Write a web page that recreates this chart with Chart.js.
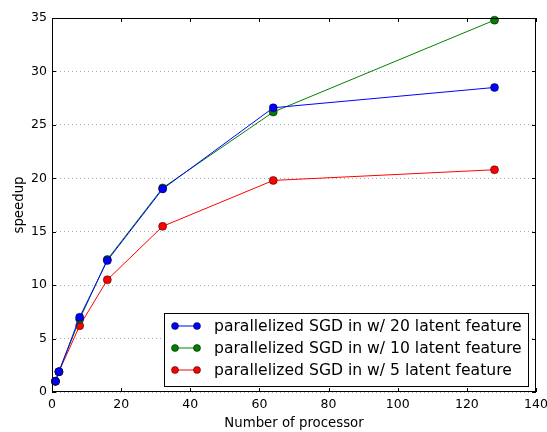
<!DOCTYPE html>
<html>
<head>
<meta charset="utf-8">
<script src="https://cdn.jsdelivr.net/npm/chart.js@4/dist/chart.umd.min.js"></script>
<style>
  html, body { margin: 0; padding: 0; background: #fff; }
  #wrap { width: 547px; height: 432px; }
</style>
</head>
<body>
<div id="wrap"><canvas id="chart-body"></canvas></div>
<script>
const processors = [1, 2, 8, 16, 32, 64, 128];
const speedup20 = [1.0, 1.9, 7.0, 12.3, 19.0, 26.6, 28.5];
const speedup10 = [1.0, 1.9, 6.8, 12.4, 19.1, 26.2, 34.8];
const speedup5 = [1.0, 1.9, 6.2, 10.5, 15.5, 19.8, 20.8];
const seriesLabels = [
    'parallelized SGD in w/ 20 latent feature',
    'parallelized SGD in w/ 10 latent feature',
    'parallelized SGD in w/ 5 latent feature'
];
const seriesColors = ['#0000ff', '#008000', '#ff0000'];

const FONT = '"DejaVu Sans", sans-serif';

function toPoints(values) {
    return processors.map((p, i) => ({ x: p, y: values[i] }));
}

// frame, inward ticks on all four sides, and the boxed legend inside the plot
const framePlugin = {
    id: 'frame',
    afterDraw(chart) {
        const ctx = chart.ctx;
        const a = chart.chartArea;
        const xs = chart.scales.x;
        const ys = chart.scales.y;
        ctx.save();
        ctx.strokeStyle = '#000';
        ctx.lineWidth = 1;
        ctx.beginPath();
        xs.ticks.forEach(t => {
            const px = Math.round(xs.getPixelForValue(t.value)) + 0.5;
            ctx.moveTo(px, a.bottom); ctx.lineTo(px, a.bottom - 4);
            ctx.moveTo(px, a.top); ctx.lineTo(px, a.top + 4);
        });
        ys.ticks.forEach(t => {
            const py = Math.round(ys.getPixelForValue(t.value)) + 0.5;
            ctx.moveTo(a.left, py); ctx.lineTo(a.left + 4, py);
            ctx.moveTo(a.right, py); ctx.lineTo(a.right - 4, py);
        });
        ctx.stroke();
        ctx.strokeRect(Math.round(a.left) + 0.5, Math.round(a.top) + 0.5,
            Math.round(a.right - a.left) - 1, Math.round(a.bottom - a.top) - 1);

        // legend
        const bx = 164.5, by = 313.5, bw = 364, bh = 73;
        ctx.fillStyle = '#fff';
        ctx.fillRect(bx, by, bw, bh);
        ctx.strokeRect(bx, by, bw, bh);
        ctx.font = '15.6px ' + FONT;
        ctx.textBaseline = 'middle';
        chart.data.datasets.forEach((ds, i) => {
            const y = 326 + i * 22;
            ctx.strokeStyle = ds.borderColor;
            ctx.beginPath();
            ctx.moveTo(175, y); ctx.lineTo(197, y);
            ctx.stroke();
            [175, 197].forEach(x => {
                ctx.beginPath();
                ctx.arc(x, y, 3.5, 0, Math.PI * 2);
                ctx.fillStyle = ds.pointBackgroundColor;
                ctx.fill();
                ctx.strokeStyle = '#000';
                ctx.lineWidth = 0.5;
                ctx.stroke();
                ctx.lineWidth = 1;
            });
            ctx.fillStyle = '#000';
            ctx.fillText(ds.label, 214, y + 1);
        });
        ctx.restore();
    }
};

function initializeChart() {
    const ctx = document.getElementById('chart-body').getContext('2d');
    const datasets = [speedup20, speedup10, speedup5].map((vals, i) => ({
        label: seriesLabels[i],
        data: toPoints(vals),
        borderColor: seriesColors[i],
        backgroundColor: seriesColors[i],
        pointBackgroundColor: seriesColors[i],
        pointBorderColor: '#000',
        pointBorderWidth: 0.5,
        pointRadius: 4,
        borderWidth: 1,
        tension: 0,
        clip: false
    }));
    window.chart = new Chart(ctx, {
        type: 'line',
        data: { datasets },
        options: {
            responsive: true,
            maintainAspectRatio: false,
            animation: { duration: 0 },
            layout: { padding: { top: 18, right: 0, left: 0, bottom: 0 } },
            plugins: {
                legend: { display: false },
                tooltip: { enabled: false }
            },
            scales: {
                x: {
                    type: 'linear',
                    min: 0,
                    max: 140,
                    grid: { display: false, drawTicks: false },
                    border: { display: false },
                    ticks: {
                        stepSize: 20,
                        color: '#000',
                        padding: 5,
                        font: { family: FONT, size: 12.5 }
                    },
                    title: {
                        display: true,
                        text: 'Number of processor',
                        color: '#000',
                        padding: { top: 2, bottom: 0 },
                        font: { family: FONT, size: 13.3 }
                    },
                    afterFit(scale) {
                        scale.height = 40;
                        scale.paddingRight = 11;
                        scale.paddingLeft = 0;
                    }
                },
                y: {
                    min: 0,
                    max: 35,
                    grid: {
                        color: '#aaaaaa',
                        lineWidth: 1,
                        drawTicks: false
                    },
                    border: { display: false, dash: [1, 3] },
                    ticks: {
                        stepSize: 5,
                        color: '#000',
                        padding: 5,
                        font: { family: FONT, size: 12.5 }
                    },
                    title: {
                        display: true,
                        text: 'speedup',
                        color: '#000',
                        padding: { top: 12, bottom: 2 },
                        font: { family: FONT, size: 13.3 }
                    },
                    afterFit(scale) {
                        scale.width = 52;
                        scale.paddingTop = 0;
                        scale.paddingBottom = 0;
                    }
                }
            }
        },
        plugins: [framePlugin]
    });
}

document.fonts.load('15px "DejaVu Sans"').then(initializeChart, initializeChart);
</script>
</body>
</html>
